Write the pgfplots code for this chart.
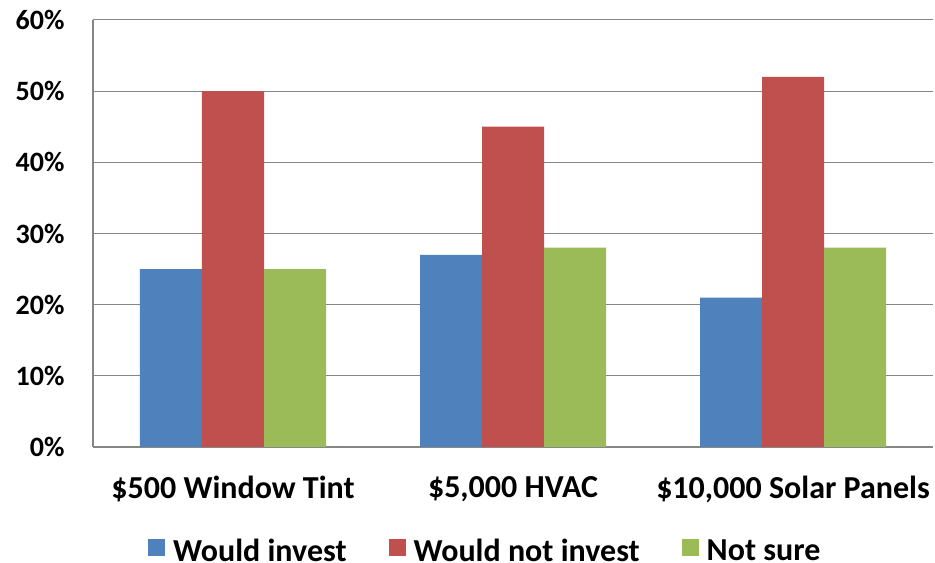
\documentclass[border=0pt]{standalone}
\usepackage{pgfplots}
\pgfplotsset{compat=1.18}
\usepackage{fontspec}
\setmainfont{Carlito}
\definecolor{sblue}{HTML}{4F81BD}
\definecolor{sred}{HTML}{C0504D}
\definecolor{sgreen}{HTML}{9BBB59}
\definecolor{axgray}{RGB}{134,134,134}
\begin{document}
\begin{tikzpicture}
\begin{axis}[
  name=ax,
  scale only axis, width=840bp, height=427bp,
  xmin=-0.5, xmax=2.5, ymin=0, ymax=60,
  ybar=0pt, bar width=62bp,
  xtick={0,1,2},
  xticklabels={\$500 Window Tint,\$5{,}000 HVAC,\$10{,}000 Solar Panels},
  ytick={0,10,...,60},
  yticklabel={\pgfmathprintnumber{\tick}\%},
  /pgf/number format/assume math mode=true,
  ymajorgrids, grid style={draw=axgray, line width=1bp},
  axis x line*=bottom, axis y line*=left,
  axis line style={draw=axgray, line width=1.3bp},
  major tick length=0pt,
  yticklabel style={font=\bfseries\fontsize{28bp}{30bp}\selectfont, xshift=-25bp},
  xticklabel style={font=\bfseries\fontsize{32bp}{36bp}\selectfont, yshift=-26bp},
  legend style={at={(0.467,-0.244)}, anchor=center, draw=none, legend columns=3,
    font=\bfseries\fontsize{32bp}{36bp}\selectfont,
    /tikz/every even column/.append style={column sep=40bp}},
  legend image code/.code={\fill[#1] (0bp,-5bp) rectangle (17bp,12bp); \path (23bp,0bp);},
]
\addplot[fill=sblue, draw=none] coordinates {(0,25) (1,27) (2,21)};
\addplot[fill=sred, draw=none] coordinates {(0,50) (1,45) (2,52)};
\addplot[fill=sgreen, draw=none] coordinates {(0,25) (1,28) (2,28)};
\legend{Would invest, Would not invest, Not sure}
\end{axis}
\pgfresetboundingbox
\path ([xshift=-93bp, yshift=-116bp]ax.south west) rectangle ([xshift=2bp, yshift=20bp]ax.north east);
\end{tikzpicture}
\end{document}
